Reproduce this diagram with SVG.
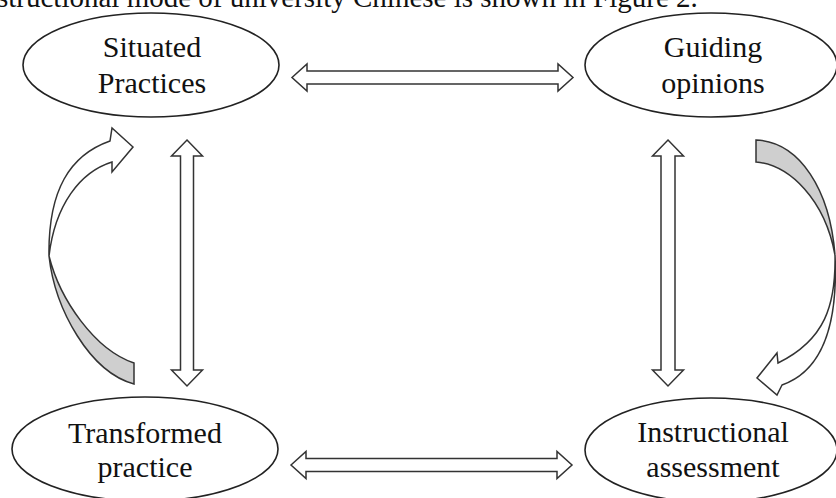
<svg xmlns="http://www.w3.org/2000/svg" width="836" height="498" viewBox="0 0 836 498">
<style>
.node{fill:#fff;stroke:#222;stroke-width:1.6}
.lbl{font-family:"Liberation Serif","Times New Roman",serif;font-size:30px;fill:#111;text-anchor:middle}
.cap{font-family:"Liberation Serif","Times New Roman",serif;font-size:29px;fill:#111}
.arr{fill:#fff;stroke:#333;stroke-width:1.5;stroke-linejoin:miter}
.back{fill:#cfcfcf;stroke:#333;stroke-width:1.5}
</style>
<rect width="836" height="498" fill="#fff"/>
<text class="cap" x="-3" y="7">structional mode of university Chinese is shown in Figure 2.</text>
<g id="connectors">
  <path class="arr" d="M292,77.5 L307,64 L307,71 L558,71 L558,64 L573,77.5 L558,91 L558,84 L307,84 L307,91 Z"/>
  <path class="arr" d="M291,465 L306,451.5 L306,458.5 L557,458.5 L557,451.5 L572,465 L557,478.5 L557,471.5 L306,471.5 L306,478.5 Z"/>
  <path class="arr" d="M187,140 L202.5,156 L193.5,156 L193.5,370 L202.5,370 L187,386 L171.5,370 L180.5,370 L180.5,156 L171.5,156 Z"/>
  <path class="arr" d="M668,140 L683.5,156 L675,156 L675,370 L683.5,370 L668,386 L652.5,370 L661,370 L661,156 L652.5,156 Z"/>
  <path class="back" d="M49,256 C55,310 90,372 134,384 L134,363 C95,350 60,300 49,256 Z"/>
  <path class="arr" d="M49,256 C48,190 70,155 110,141 L112,128 L133,147 L112,172 L112,162 C80,172 55,205 49,256 Z"/>
  <path class="back" d="M756,140 C800,142 830,190 835,255 C825,200 790,165 756,162 Z"/>
  <path class="arr" d="M835,255 C836,305 825,340 778,363 L777,353 L757,378 L777,395 L782,385 C825,370 838,320 835,255 Z"/>
</g>
<g id="situated">
  <ellipse class="node" cx="151" cy="65" rx="128" ry="52"/>
  <text class="lbl" x="152" y="57">Situated</text>
  <text class="lbl" x="152" y="93">Practices</text>
</g>
<g id="guiding">
  <ellipse class="node" cx="711" cy="65" rx="126" ry="52"/>
  <text class="lbl" x="713" y="57">Guiding</text>
  <text class="lbl" x="713" y="93">opinions</text>
</g>
<g id="transformed">
  <ellipse class="node" cx="145" cy="449" rx="133" ry="52"/>
  <text class="lbl" x="145" y="443">Transformed</text>
  <text class="lbl" x="145" y="477">practice</text>
</g>
<g id="assessment">
  <ellipse class="node" cx="711" cy="450" rx="126" ry="52"/>
  <text class="lbl" x="713" y="442">Instructional</text>
  <text class="lbl" x="713" y="477">assessment</text>
</g>
</svg>
